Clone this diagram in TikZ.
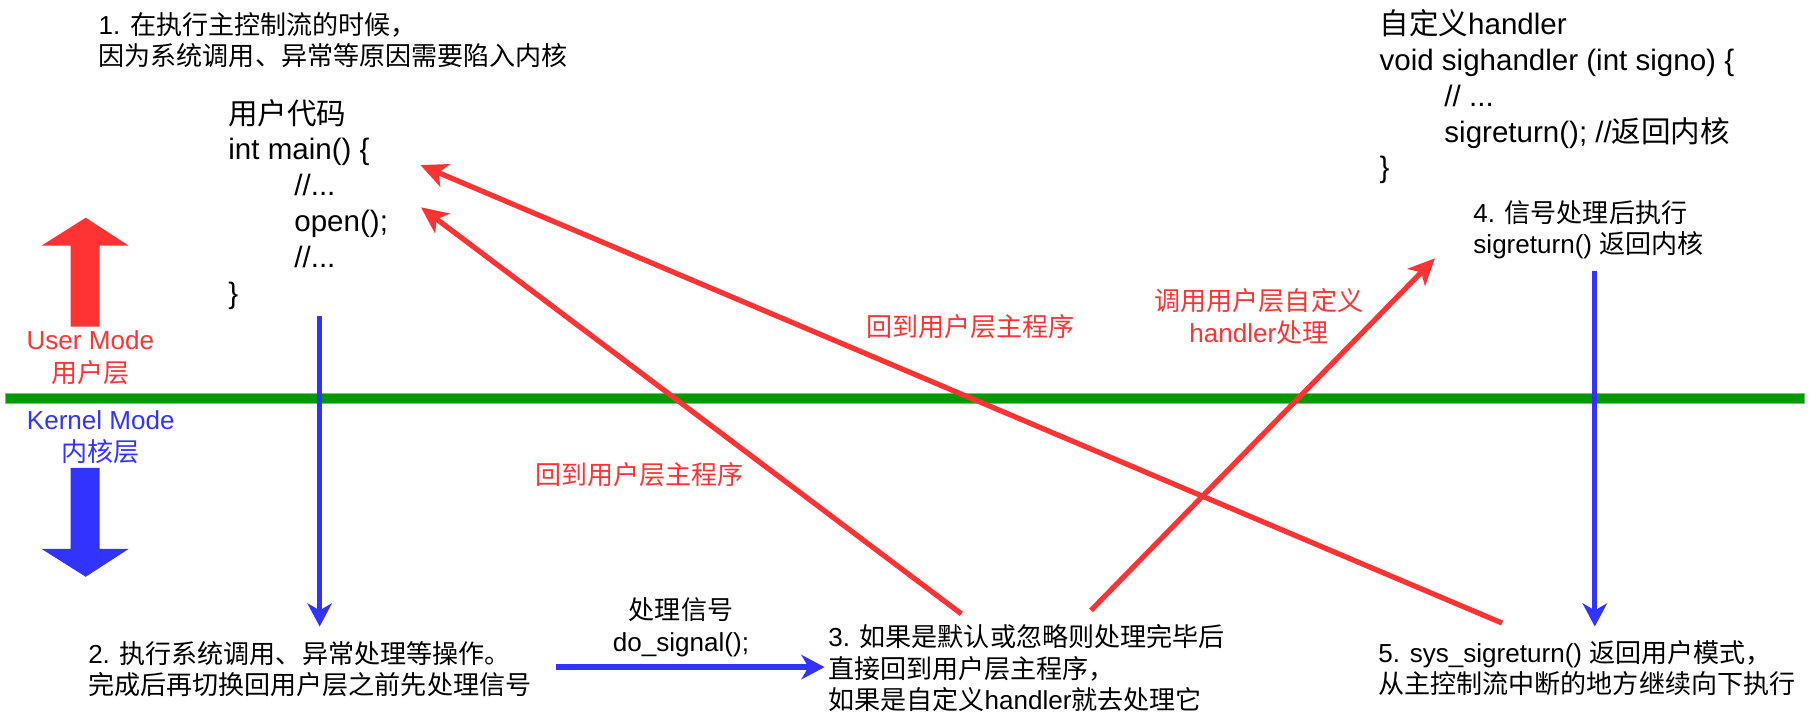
\documentclass[tikz,border=0pt]{standalone}
\usepackage{fontspec}
\setmainfont{Liberation Sans}
\newfontfamily\zhfont{Noto Sans CJK SC}
\newcommand{\zh}[1]{{\zhfont #1}}
\usetikzlibrary{arrows.meta, positioning}
\definecolor{sgred}{HTML}{FF3333}
\definecolor{sgblue}{HTML}{3333FF}
\definecolor{sggreen}{HTML}{009900}
\tikzset{
  sgnote/.style={anchor=west, align=left, inner sep=0pt, font=\fontsize{22.5}{27}\selectfont},
  sgcode/.style={sgnote, font=\fontsize{25.5}{31}\selectfont},
  sglabel/.style={align=center, inner sep=0pt, font=\fontsize{22.5}{28}\selectfont},
  sgredarrow/.style={-{Stealth[length=23pt, width=21pt, inset=6pt]}, line width=4.5pt, draw=sgred},
  sgbluearrow/.style={-{Stealth[length=20pt, width=21pt, inset=6pt]}, line width=4pt, draw=sgblue},
  sgblock/.style={line width=0pt},
}

\begin{document}
\begin{tikzpicture}[x=1pt, y=-1pt]
  \useasboundingbox (0,0) rectangle (1568,625);

  % User code and handler code.
  \node[sgnote] (step1) at (85,34.5) {1. \zh{在执行主控制流的时候，}\\\zh{因为系统调用、异常等原因需要陷入内核}};
  \node[sgcode] (usrcode) at (197,176.5) {\zh{用户代码}\\int main() \{\\\hspace*{57pt}//...\\\hspace*{57pt}open();\\\hspace*{57pt}//...\\\}};
  \node[sgcode] (hdlcode) at (1191,83.5) {\zh{自定义}handler\\void sighandler (int signo) \{\\\hspace*{56pt}// ...\\\hspace*{56pt}sigreturn(); //\zh{返回内核}\\\}};
  \node[sgnote] (step4) at (1272,198.5) {4. \zh{信号处理后执行}\\sigreturn() \zh{返回内核}};

  % Kernel side steps.
  \node[sgnote] (step2) at (76,577.5) {2. \zh{执行系统调用、异常处理等操作。}\\\zh{完成后再切换回用户层之前先处理信号}};
  \node[sgnote] (step3) at (715,577) {3. \zh{如果是默认或忽略则处理完毕后}\\\zh{直接回到用户层主程序，}\\\zh{如果是自定义}handler\zh{就去处理它}};
  \node[sgnote] (step5) at (1190,577) {5. sys\_sigreturn() \zh{返回用户模式，}\\\zh{从主控制流中断的地方继续向下执行}};
  \node[sglabel] (dosig) at (588,541.5) {\zh{处理信号}\\do\_signal();};

  % Mode boundary.
  \fill[sggreen, draw=sggreen!55!white, line width=0.8pt] (5,339.7) rectangle (1558,348.3);
  \node[sglabel, text=sgred] (usrmode) at (78,309) {User Mode\\\zh{用户层}};
  \node[sglabel, text=sgblue] (krnmode) at (87,377.5) {Kernel Mode\\\zh{内核层}};
  \fill[sgred, sgblock] (61,282) -- (61,212) -- (36,212) -- (74,188) -- (111,212) -- (86,212) -- (86,282) -- cycle;
  \fill[sgblue, sgblock] (61,404) -- (61,474) -- (36,474) -- (74,498) -- (111,474) -- (86,474) -- (86,404) -- cycle;

  % Red labels.
  \node[sglabel, text=sgred] (back1) at (552,410) {\zh{回到用户层主程序}};
  \node[sglabel, text=sgred] (back2) at (838,282) {\zh{回到用户层主程序}};
  \node[sglabel, text=sgred] (callhdl) at (1087,273.5) {\zh{调用用户层自定义}\\handler\zh{处理}};

  % Arrow ends.
  \coordinate (usrcode_out) at (276,273);
  \coordinate (usrcode_open) at (363.5,179);
  \coordinate (usrcode_main) at (363,142.5);
  \coordinate (step2_in) at (276,541);
  \coordinate (step2_out) at (480,576);
  \coordinate (step3_in) at (712,576);
  \coordinate (step3_ret) at (830,530);
  \coordinate (step3_hdl) at (942,527);
  \coordinate (hdl_in) at (1239,223);
  \coordinate (step4_out) at (1377,234);
  \coordinate (step5_in) at (1377,541);
  \coordinate (step5_ret) at (1297,538);

  % Edges.
  \draw[sgbluearrow] (usrcode_out) -- (step2_in);
  \draw[sgbluearrow] (step4_out) -- (step5_in);
  \draw[sgbluearrow, line width=5.5pt] (step2_out) -- (step3_in);
  \draw[sgredarrow] (step3_ret) -- (usrcode_open);
  \draw[sgredarrow] (step5_ret) -- (usrcode_main);
  \draw[sgredarrow] (step3_hdl) -- (hdl_in);
\end{tikzpicture}
\end{document}
